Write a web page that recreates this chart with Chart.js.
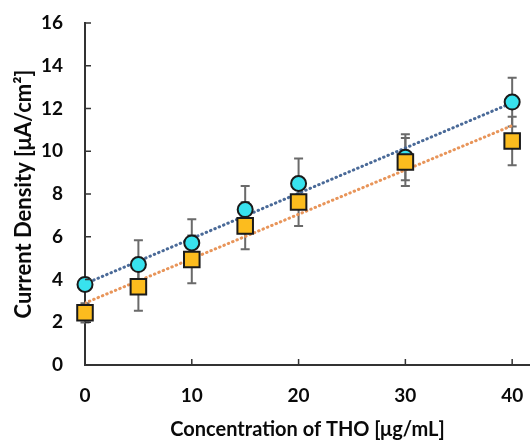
<!DOCTYPE html>
<html>
<head>
<meta charset="utf-8">
<script src="https://cdn.jsdelivr.net/npm/chart.js@4.4.1/dist/chart.umd.min.js"></script>
<style>
  html, body { margin: 0; padding: 0; background: #fff; overflow: hidden; }
  #wrap { width: 530px; height: 443px; position: relative; }
</style>
</head>
<body>
<div id="wrap"><canvas id="chart"></canvas></div>
<script>
// values
const concentrations = [0, 5, 10, 15, 20, 30, 40];
const cyanValues   = [3.77, 4.70, 5.71, 7.27, 8.49, 9.72, 12.30];
const cyanErrors   = [0.30, 1.14, 1.11, 1.11, 1.17, 1.08, 1.14];
const orangeValues = [2.44, 3.66, 4.94, 6.51, 7.63, 9.50, 10.48];
const orangeErrors = [0.45, 1.12, 1.12, 1.10, 1.13, 1.12, 1.13];
// dotted trend lines (end points)
const trendX = [0, 40];
const cyanTrend = [3.80, 12.27];
const orangeTrend = [2.90, 11.20];
const xTicks = [0, 10, 20, 30, 40];
const yTicks = [0, 2, 4, 6, 8, 10, 12, 14, 16];

const toPoints = (xs, ys) => xs.map((x, i) => ({ x: x, y: ys[i] }));

// error bars, drawn under the markers
const errorBars = {
  id: 'errorBars',
  beforeDatasetsDraw(chart) {
    const { ctx, scales: { x, y } } = chart;
    ctx.save();
    ctx.strokeStyle = '#6a6a6a';
    ctx.lineWidth = 2;
    [[cyanValues, cyanErrors], [orangeValues, orangeErrors]].forEach(([vals, errs]) => {
      concentrations.forEach((c, i) => {
        const px = x.getPixelForValue(c);
        const top = y.getPixelForValue(vals[i] + errs[i]);
        const bot = y.getPixelForValue(vals[i] - errs[i]);
        ctx.beginPath();
        ctx.moveTo(px, top); ctx.lineTo(px, bot);
        ctx.moveTo(px - 4.5, top); ctx.lineTo(px + 4.5, top);
        ctx.moveTo(px - 4.5, bot); ctx.lineTo(px + 4.5, bot);
        ctx.stroke();
      });
    });
    ctx.restore();
  }
};

// tick marks pointing into the plot
const innerTicks = {
  id: 'innerTicks',
  afterDraw(chart) {
    const { ctx, scales: { x, y } } = chart;
    ctx.save();
    ctx.strokeStyle = '#333';
    ctx.lineWidth = 1.5;
    ctx.beginPath();
    xTicks.forEach(v => {
      const px = x.getPixelForValue(v);
      ctx.moveTo(px, y.bottom); ctx.lineTo(px, y.bottom - 6);
    });
    yTicks.forEach(v => {
      const py = y.getPixelForValue(v);
      ctx.moveTo(x.left, py); ctx.lineTo(x.left + 6, py);
    });
    ctx.stroke();
    ctx.restore();
  }
};

const tickFont = { family: 'Lato', size: 19, weight: 'bold' };

new Chart(document.getElementById('chart'), {
  type: 'scatter',
  data: {
    datasets: [
      {
        label: 'orange',
        data: toPoints(concentrations, orangeValues),
        pointStyle: 'rect',
        pointRadius: 11,
        backgroundColor: '#fcbc1e',
        borderColor: '#1a1a1a',
        borderWidth: 2,
        clip: false,
        order: 0
      },
      {
        label: 'cyan',
        data: toPoints(concentrations, cyanValues),
        pointStyle: 'circle',
        pointRadius: 7.5,
        backgroundColor: '#38e2ee',
        borderColor: '#1a1a1a',
        borderWidth: 2,
        clip: false,
        order: 1
      },
      {
        label: 'cyan trend',
        data: toPoints(trendX, cyanTrend),
        showLine: true,
        pointRadius: 0,
        borderColor: '#4a6a98',
        borderWidth: 3,
        borderDash: [0.5, 4.2],
        borderCapStyle: 'round',
        order: 2
      },
      {
        label: 'orange trend',
        data: toPoints(trendX, orangeTrend),
        showLine: true,
        pointRadius: 0,
        borderColor: '#e8955a',
        borderWidth: 3,
        borderDash: [0.5, 4.2],
        borderCapStyle: 'round',
        order: 3
      }
    ]
  },
  options: {
    responsive: true,
    maintainAspectRatio: false,
    animation: false,
    layout: { autoPadding: false, padding: { top: 23, right: 0, left: 0, bottom: 0 } },
    plugins: { legend: { display: false }, tooltip: { enabled: false } },
    scales: {
      x: {
        type: 'linear',
        min: 0,
        max: 41.67,
        afterBuildTicks: s => { s.ticks = xTicks.map(v => ({ value: v })); },
        afterFit: s => { s.height = 78; s.paddingLeft = 0; s.paddingRight = 0; },
        grid: { display: true, drawOnChartArea: false, drawTicks: false },
        border: { display: true, color: '#333', width: 2 },
        ticks: { color: '#0a0a0a', font: tickFont, padding: 19, maxRotation: 0 },
        title: {
          display: true,
          text: 'Concentration of THO [μg/mL]',
          color: '#0a0a0a',
          font: { family: 'Lato', size: 20, weight: 'bold' },
          padding: { top: 0, bottom: 1 }
        }
      },
      y: {
        type: 'linear',
        min: 0,
        max: 16,
        afterBuildTicks: s => { s.ticks = yTicks.map(v => ({ value: v })); },
        afterFit: s => { s.width = 85; s.paddingTop = 0; s.paddingBottom = 0; },
        grid: { display: true, drawOnChartArea: false, drawTicks: false },
        border: { display: true, color: '#333', width: 2 },
        ticks: { color: '#0a0a0a', font: tickFont, padding: 22 },
        title: {
          display: true,
          text: 'Current Density [μA/cm²]',
          color: '#0a0a0a',
          font: { family: 'Lato', size: 22, weight: 'bold' },
          padding: { top: 11, bottom: 0 }
        }
      }
    }
  },
  plugins: [errorBars, innerTicks]
});
</script>
</body>
</html>
